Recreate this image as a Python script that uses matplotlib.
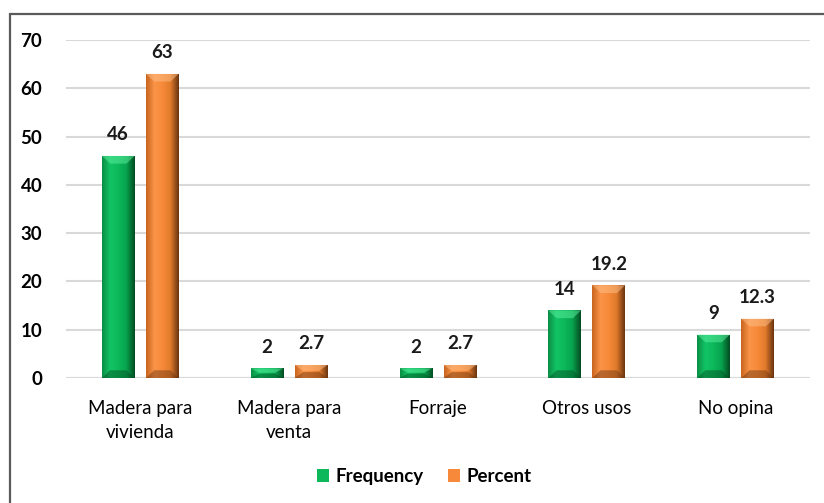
import numpy as np
import matplotlib.pyplot as plt
from matplotlib.colors import LinearSegmentedColormap
from matplotlib.patches import Rectangle, Polygon

categories = ["Madera para\nvivienda", "Madera para\nventa", "Forraje", "Otros usos", "No opina"]
frequency = [46, 2, 2, 14, 9]
percent = [63, 2.7, 2.7, 19.2, 12.3]
percent_labels = ["63", "2.7", "2.7", "19.2", "12.3"]

plt.rcParams['font.family'] = ['Lato', 'DejaVu Sans']

fig = plt.figure(figsize=(8.24, 5.03), dpi=100)
ax = fig.add_axes([0.080, 0.2485, 0.903, 0.672])

# frame of the chart area (only left and top are visible in the crop)
fig.patches.append(Rectangle((10 / 824, -0.05), 1.0, 1 - 14 / 503 + 0.05,
                             transform=fig.transFigure, fill=False,
                             edgecolor="#5a5a5a", linewidth=1.6))

x = np.arange(len(categories))
w = 0.22
off = 0.148

green = LinearSegmentedColormap.from_list("g", ["#0a8f45", "#12c465", "#0cb85a", "#07a24e", "#034d22"])
orange = LinearSegmentedColormap.from_list("o", ["#c9651f", "#fb9448", "#f78a3a", "#e07a2c", "#6b3510"])

def bevel_bars(xs, vals, cmap, top_col, bot_col, label):
    bars = ax.bar(xs, vals, w, color=cmap(0.5), label=label, zorder=3)
    grad = np.linspace(0, 1, 64).reshape(1, -1)
    for b in bars:
        x0, bw, h = b.get_x(), b.get_width(), b.get_height()
        im = ax.imshow(grad, cmap=cmap, aspect="auto", extent=(x0, x0 + bw, 0, h), zorder=4)
        im.set_clip_path(b)
        # small bevel at top and bottom
        ht = min(1.6, h * 0.45)
        ax.add_patch(Polygon([(x0, h), (x0 + bw, h), (x0 + bw * 0.75, h - ht), (x0 + bw * 0.25, h - ht)],
                             closed=True, color=top_col, alpha=0.5, zorder=5, lw=0))
        ax.add_patch(Polygon([(x0, 0), (x0 + bw, 0), (x0 + bw * 0.75, ht), (x0 + bw * 0.25, ht)],
                             closed=True, color=bot_col, alpha=0.45, zorder=5, lw=0))
    return bars

gb = bevel_bars(x - off, frequency, green, "#5ef0a0", "#034d22", "Frequency")
ob = bevel_bars(x + off, percent, orange, "#ffc08a", "#6b3510", "Percent")

for b, v in zip(gb, frequency):
    ax.text(b.get_x() + b.get_width() / 2, v + 2.6, str(v), ha="center", va="bottom",
            fontsize=13.5, fontweight="bold", color="#1a1a1a")
for b, v, s in zip(ob, percent, percent_labels):
    ax.text(b.get_x() + b.get_width() / 2, v + 2.6, s, ha="center", va="bottom",
            fontsize=13.5, fontweight="bold", color="#1a1a1a")

ax.set_xlim(-0.5, len(categories) - 0.5)
ax.set_ylim(0, 70)
ax.set_yticks(range(0, 71, 10))
ax.yaxis.grid(True, color="#d9d9d9", linewidth=1.5, zorder=0)
ax.set_axisbelow(True)
for s in ax.spines.values():
    s.set_visible(False)
ax.axhline(0, color="#d9d9d9", linewidth=1.5, zorder=1)
ax.tick_params(axis="both", length=0)
ax.tick_params(axis="y", pad=17, labelsize=13.5)
for t in ax.get_yticklabels():
    t.set_fontweight("bold")
ax.set_xticks(x)
ax.set_xticklabels(categories, fontsize=13.5, linespacing=1.45)
ax.tick_params(axis="x", pad=16)

leg = fig.legend(handles=[gb, ob], labels=["Frequency", "Percent"], loc="center",
                 bbox_to_anchor=(0.515, 0.053), ncol=2, frameon=False,
                 handlelength=0.65, handleheight=0.65, columnspacing=1.3, handletextpad=0.35,
                 prop={"size": 13.5, "weight": "bold"})

fig.savefig("out.png", dpi=100)
